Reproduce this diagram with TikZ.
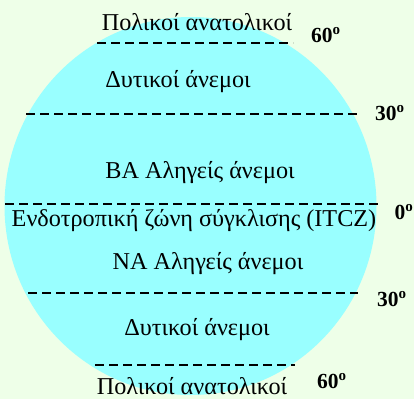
\documentclass[tikz,border=0pt]{standalone}
\usepackage{fontspec}
\setmainfont{Liberation Serif}
\definecolor{bgcol}{HTML}{EEFFE8}
\definecolor{globecol}{HTML}{99FFFF}
\begin{document}
\begin{tikzpicture}[x=1pt,y=-1pt,
  zone/.style={font=\fontsize{24.2}{28}\selectfont, inner sep=0pt, anchor=center},
  lat/.style={font=\fontsize{21.5}{24}\selectfont\bfseries, inner sep=0pt, anchor=center},
  parallel/.style={line width=1.4pt, dash pattern=on 9pt off 5pt}]
  % background and globe
  \fill[bgcol] (0,0) rectangle (414,399);
  \useasboundingbox (0,0) rectangle (414,399);
  \fill[globecol] (190.5,206) ellipse [x radius=186, y radius=189];
  % parallels
  \coordinate (n60a) at (97,43);   \coordinate (n60b) at (293,43);
  \coordinate (n30a) at (26,114);  \coordinate (n30b) at (357,114);
  \coordinate (eqa)  at (5,204);   \coordinate (eqb)  at (378,204);
  \coordinate (s30a) at (28,293);  \coordinate (s30b) at (358,293);
  \coordinate (s60a) at (95,365);  \coordinate (s60b) at (295,365);
  \draw[parallel] (n60a) -- (n60b);
  \draw[parallel] (n30a) -- (n30b);
  \draw[parallel] (eqa) -- (eqb);
  \draw[parallel] (s30a) -- (s30b);
  \draw[parallel] (s60a) -- (s60b);
  % wind belts
  \node[zone] (polN) at (197,22) {Πολικοί ανατολικοί};
  \node[zone] (westN) at (178,82) {Δυτικοί άνεμοι};
  \node[zone] (tradeN) at (200,173) {ΒΑ Αληγείς άνεμοι};
  \node[zone] (itcz) at (194,221) {Ενδοτροπική ζώνη σύγκλισης (ITCZ)};
  \node[zone] (tradeS) at (208,264) {ΝΑ Αληγείς άνεμοι};
  \node[zone] (westS) at (197,330) {Δυτικοί άνεμοι};
  \node[zone] (polS) at (192,386) {Πολικοί ανατολικοί};
  % latitude labels
  \node[lat] (l60N) at (326,35) {60\textsuperscript{o}};
  \node[lat] (l30N) at (390,113) {30\textsuperscript{o}};
  \node[lat] (l0) at (404,212) {0\textsuperscript{o}};
  \node[lat] (l30S) at (392,299) {30\textsuperscript{o}};
  \node[lat] (l60S) at (332,381) {60\textsuperscript{o}};
\end{tikzpicture}
\end{document}
